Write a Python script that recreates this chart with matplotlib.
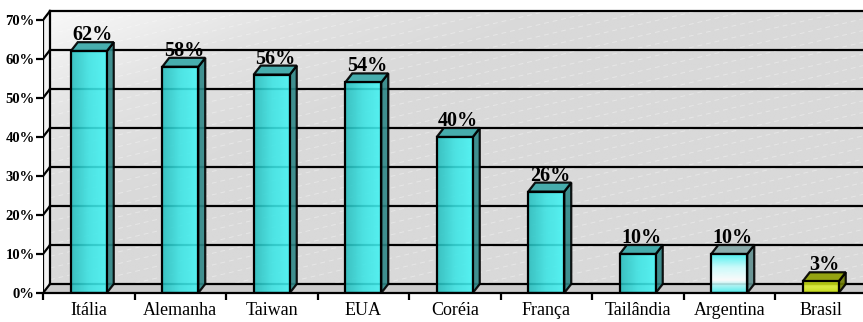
import numpy as np
import matplotlib.pyplot as plt
from matplotlib.patches import Polygon, Rectangle
from matplotlib.colors import LinearSegmentedColormap

paises = ["Itália", "Alemanha", "Taiwan", "EUA", "Coréia", "França",
          "Tailândia", "Argentina", "Brasil"]
valores = [62, 58, 56, 54, 40, 26, 10, 10, 3]
estilos = ["ciano", "ciano", "ciano", "ciano", "ciano", "ciano", "ciano",
           "argentina", "brasil"]
ticks_y = [0, 10, 20, 30, 40, 50, 60, 70]

SERIF = "Liberation Serif"

# cores de cada estilo: gradiente da face frontal, topo, lateral
cores = {
    "ciano": dict(frente=["#25bdbd", "#3ae4e4", "#44f4f4"], direcao="h",
                  topo="#3aa9a9", lado="#2e8787"),
    "argentina": dict(frente=["#3ff2f2", "#c8ffff", "#ffffff", "#3ff2f2"],
                      direcao="v", topo="#86a9a9", lado="#5f8e8e"),
    "brasil": dict(frente=["#bcd400", "#dcee30", "#c4dc00"], direcao="v",
                   topo="#8e9f00", lado="#6f7d00"),
}

W, H = 863, 322
fig = plt.figure(figsize=(W / 100, H / 100), dpi=100)
px_x0, px_y0 = 43, 293          # origem do eixo em pixels
px_cat, px_pct = 91.5, 3.9      # pixels por categoria e por ponto percentual
ax = fig.add_axes([px_x0 / W, (H - px_y0) / H, (W - px_x0) / W, px_y0 / H])
x0 = -0.5
xmax = x0 + (W - px_x0) / px_cat
ax.set_xlim(x0, xmax)
ax.set_ylim(0, px_y0 / px_pct)

# profundidade 3D
dx = 7 / px_cat
dy = 9 / px_pct
largura = 36 / px_cat
topo_y = ticks_y[-1]
lw = 1.6

# parede do fundo com gradiente
gx, gy = np.meshgrid(np.linspace(0, 1, 200), np.linspace(0, 1, 100))
fundo = np.clip(1.6 * gx + 1.2 * gy, 0, 1)
cmap_fundo = LinearSegmentedColormap.from_list("fundo", ["#f8f8f8", "#e2e2e2", "#d9d9d9"])
ax.imshow(fundo, extent=(x0 + dx, xmax, dy, topo_y + dy), cmap=cmap_fundo,
          aspect="auto", zorder=0, origin="upper")

# listras diagonais claras do fundo
for k in np.arange(-60, 110, 3.0):
    xs = np.array([x0 + dx, xmax])
    ys = k + (xs - x0) * 5.5
    ax.plot(xs, ys, color="white", lw=0.7, ls=(0, (5, 4)), alpha=0.35,
            zorder=0.5)
ax.add_patch(Rectangle((x0 + dx, topo_y + dy), xmax, 30, color="white", zorder=0.6))

# parede lateral e piso
ax.add_patch(Polygon([(x0, 0), (x0 + dx, dy), (x0 + dx, topo_y + dy), (x0, topo_y)],
                     closed=True, facecolor="#f2f2f2", edgecolor="none", zorder=0.7))
ax.add_patch(Polygon([(x0, 0), (xmax, 0), (xmax, dy), (x0 + dx, dy)],
                     closed=True, facecolor="#cbcbcb", edgecolor="none", zorder=0.7))

# linhas de grade (fundo + diagonal na parede lateral)
for v in ticks_y:
    ax.plot([x0 + dx, xmax], [v + dy, v + dy], color="black", lw=lw, zorder=1)
    ax.plot([x0, x0 + dx], [v, v + dy], color="black", lw=lw, zorder=1)
ax.plot([x0 + dx, x0 + dx], [dy, topo_y + dy], color="black", lw=lw, zorder=1)
ax.plot([x0, x0], [0, topo_y], color="black", lw=lw, zorder=1)


def face_gradiente(pts, cores_face, direcao, z):
    poly = Polygon(pts, closed=True, facecolor="none", edgecolor="none")
    ax.add_patch(poly)
    n = 100
    if direcao == "h":
        arr = np.tile(np.linspace(0, 1, n), (n, 1))
    else:
        arr = np.tile(np.linspace(0, 1, n)[:, None], (1, n))
    cm = LinearSegmentedColormap.from_list("f", cores_face)
    xs = [p[0] for p in pts]
    ys = [p[1] for p in pts]
    im = ax.imshow(arr, extent=(min(xs), max(xs), min(ys), max(ys)), cmap=cm,
                   aspect="auto", origin="upper", zorder=z, alpha=0.88)
    im.set_clip_path(poly)


for i, (v, est) in enumerate(zip(valores, estilos)):
    c = cores[est]
    esq, dir_ = i - largura / 2, i + largura / 2
    frente = [(esq, 0), (dir_, 0), (dir_, v), (esq, v)]
    lado = [(dir_, 0), (dir_ + dx, dy), (dir_ + dx, v + dy), (dir_, v)]
    topo = [(esq, v), (dir_, v), (dir_ + dx, v + dy), (esq + dx, v + dy)]
    ax.add_patch(Polygon(lado, closed=True, facecolor=c["lado"], alpha=0.9,
                         edgecolor="black", lw=lw, zorder=2))
    ax.add_patch(Polygon(topo, closed=True, facecolor=c["topo"], alpha=0.92,
                         edgecolor="black", lw=lw, zorder=2))
    face_gradiente(frente, c["frente"], c["direcao"], 2.1)
    ax.add_patch(Polygon(frente, closed=True, facecolor="none",
                         edgecolor="black", lw=lw, zorder=2.2))
    ax.text(i + dx / 2, v + dy + 0.5, f"{v}%", ha="center", va="baseline",
            fontsize=14.5, fontweight="bold", family=SERIF, zorder=3)

ax.set_xlim(x0, xmax)
ax.set_ylim(0, px_y0 / px_pct)

# eixos
for lado_sp in ["top", "right", "left"]:
    ax.spines[lado_sp].set_visible(False)
ax.spines["bottom"].set_linewidth(lw)
ax.spines["bottom"].set_zorder(2.5)

ax.set_yticks(ticks_y)
ax.set_yticklabels([f"{v}%" for v in ticks_y], fontsize=10.5, fontweight="bold",
                   family=SERIF)
ax.tick_params(axis="y", length=5, width=lw, pad=1, direction="out")

ax.set_xticks(range(len(paises)))
ax.set_xticklabels(paises, fontsize=13, family=SERIF)
ax.set_xticks(np.arange(len(paises)) - 0.5, minor=True)
ax.tick_params(axis="x", which="major", length=0, pad=6.5)
ax.tick_params(axis="x", which="minor", length=5, width=lw, direction="out")

fig.savefig("out.png", dpi=100)
